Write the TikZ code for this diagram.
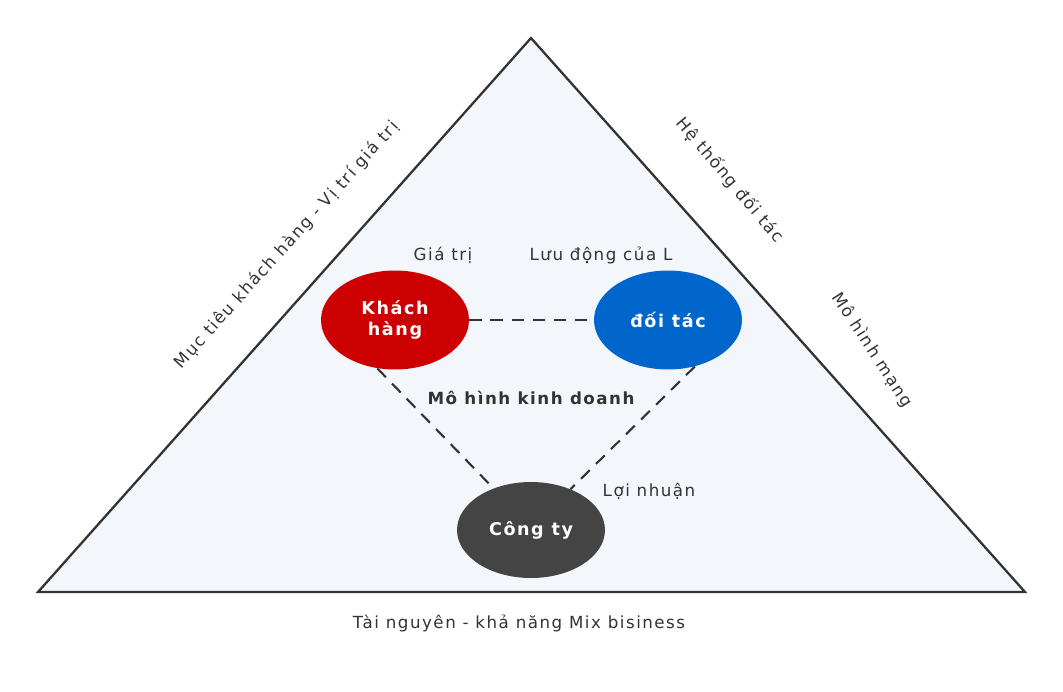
\documentclass[tikz,border=0pt]{standalone}
\usepackage{fontspec}
\setmainfont[LetterSpace=9]{DejaVu Sans}
\usetikzlibrary{shapes,calc,positioning}
\definecolor{triFill}{HTML}{F3F7FC}
\definecolor{triLine}{HTML}{333333}
\definecolor{kRed}{HTML}{CC0000}
\definecolor{kBlue}{HTML}{0066CC}
\definecolor{kGray}{HTML}{444444}
\tikzset{
  blob/.style={ellipse, minimum width=2.96cm, minimum height=1.98cm, text=white,
    font=\bfseries\fontsize{10}{12}\selectfont, align=center},
  link/.style={dashed, dash pattern=on 7pt off 5pt, line width=1.2pt, draw=triLine},
  lbl/.style={font=\fontsize{9.5}{11}\selectfont, text=triLine}
}
\begin{document}
\begin{tikzpicture}[x=0.02cm, y=-0.02cm]
  \useasboundingbox (0,0) rectangle (1063,691);

  \coordinate (top) at (531,38);
  \coordinate (left) at (38,592);
  \coordinate (right) at (1025,592);
  \draw[fill=triFill, draw=triLine, line width=1.3pt, line join=miter] (top) -- (left) -- (right) -- cycle;

  \node (KH) at (395,320) [blob, fill=kRed] {Khách\\hàng};
  \node (DT) at (668,320) [blob, fill=kBlue] {đối tác};
  \node (CT) at (531,530) [blob, fill=kGray, minimum height=1.92cm] {Công ty};

  \draw[link] (KH) -- (DT);
  \draw[link] (KH.-110) -- (CT.132);
  \draw[link] (DT.-60) -- (CT.46);

  \node (gia) at (443,255) [lbl] {Giá trị};
  \node (luu) at (601,255) [lbl] {Lưu động của L};
  \node (mohinh) at (531,398) [lbl, font=\bfseries\fontsize{9.5}{11}\selectfont] {Mô hình kinh doanh};
  \node (loi) at (649,491) [lbl] {Lợi nhuận};
  \node (tai) at (519,623) [lbl] {Tài nguyên - khả năng Mix bisiness};

  \node (muc) at (287,245) [lbl, rotate=48] {Mục tiêu khách hàng - Vị trí giá trị};
  \node (he) at (730,180) [lbl, rotate=-50] {Hệ thống đối tác};
  \node (mang) at (872,350) [lbl, rotate=-57] {Mô hình mạng};
\end{tikzpicture}
\end{document}
